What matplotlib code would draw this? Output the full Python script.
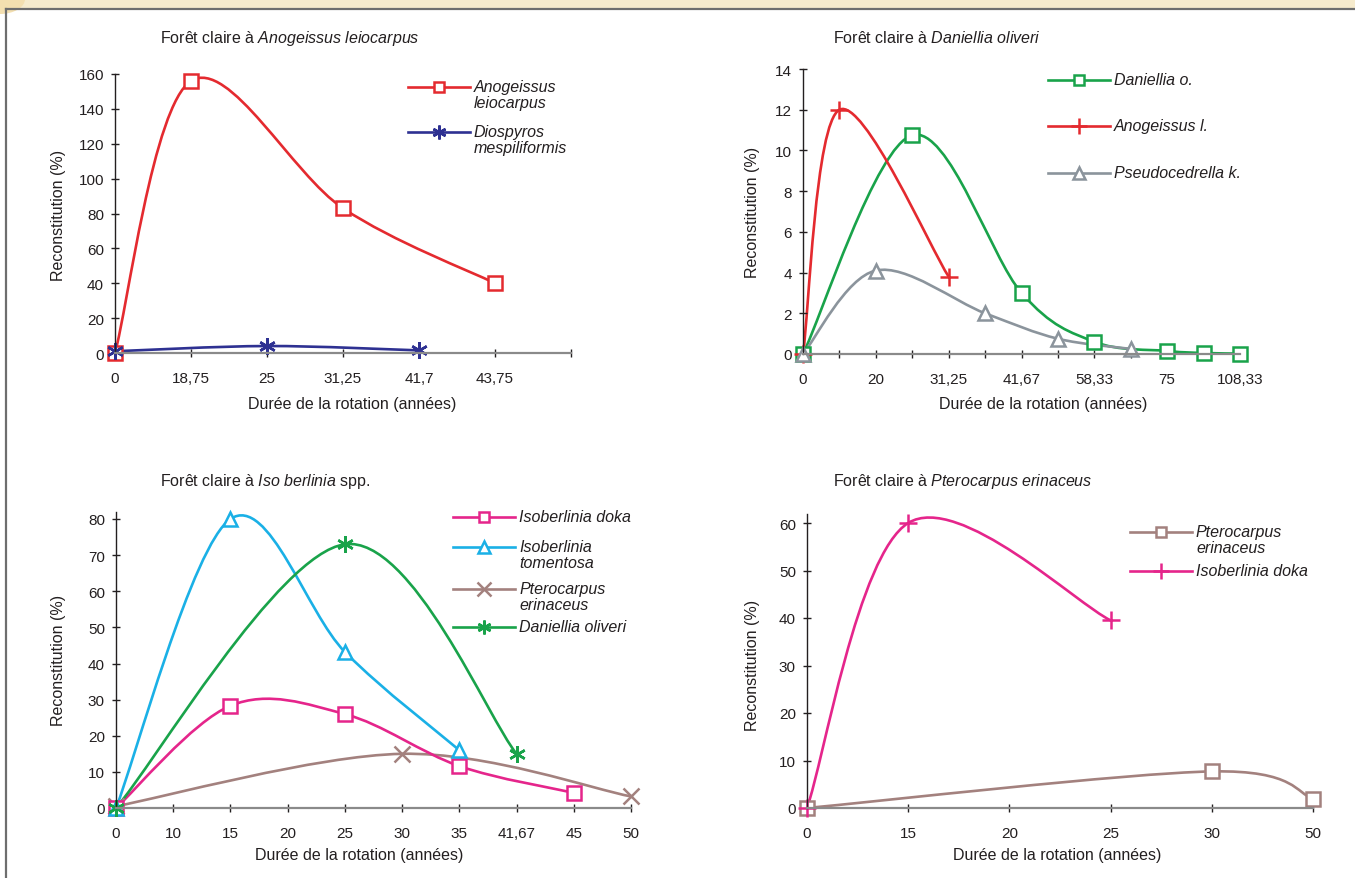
import matplotlib
matplotlib.use('Agg')
import matplotlib.pyplot as plt
from matplotlib.path import Path
from matplotlib.patches import PathPatch, Rectangle, Ellipse
from matplotlib.lines import Line2D

plt.rcParams['font.family'] = ['Liberation Sans', 'DejaVu Sans']
plt.rcParams['mathtext.fontset'] = 'custom'
plt.rcParams['mathtext.rm'] = 'Liberation Sans'
plt.rcParams['mathtext.it'] = 'Liberation Sans:italic'

W, H = 1355, 879
INK = '#231f20'
FS = 11.5

# ---- data (category positions on an evenly spaced axis, values in %) ----
tl_labels = ['0', '18,75', '25', '31,25', '41,7', '43,75', '']
tl_anog_x = [0, 1, 3, 5]
tl_anog_y = [0, 156, 83, 40]
tl_dios_x = [0, 2, 4]
tl_dios_y = [1, 4, 1.5]

tr_labels = ['0', '', '20', '', '31,25', '', '41,67', '', '58,33', '', '75', '', '108,33']
tr_dan_x = [0, 3, 6, 8, 10, 11, 12]
tr_dan_y = [0, 10.75, 3.0, 0.6, 0.15, 0.05, 0.02]
tr_anog_x = [0, 1, 4]
tr_anog_y = [0, 12, 3.8]
tr_pseu_x = [0, 2, 5, 7, 9]
tr_pseu_y = [0, 4.1, 2.0, 0.75, 0.25]

bl_labels = ['0', '10', '15', '20', '25', '30', '35', '41,67', '45', '50']
bl_doka_x = [0, 2, 4, 6, 8]
bl_doka_y = [0, 28.3, 26, 11.6, 4.2]
bl_tom_x = [0, 2, 4, 6]
bl_tom_y = [0, 80, 43.2, 16]
bl_pter_x = [0, 5, 9]
bl_pter_y = [0.5, 15, 3.2]
bl_dan_x = [0, 4, 7]
bl_dan_y = [0, 73, 15]

br_labels = ['0', '15', '20', '25', '30', '50']
br_pter_x = [0, 4, 5]
br_pter_y = [0, 7.7, 2]
br_doka_x = [0, 1, 3]
br_doka_y = [0, 60, 39.5]

RED = '#e42a2f'
NAVY = '#2e3192'
GREEN = '#19a34a'
GREY = '#8b949c'
MAGENTA = '#e5258b'
CYAN = '#1ab0e6'
BROWN = '#a3817e'
STAR = (6, 2, 0)
HOLLOW = ('s', '^')


def px(x, y):
    return x / W, 1 - y / H


def smooth_path(xs, ys):
    # Catmull-Rom style bezier, like the spreadsheet "smoothed line"
    pts = list(zip(xs, ys))
    n = len(pts)
    verts = [pts[0]]
    codes = [Path.MOVETO]
    for i in range(n - 1):
        p0 = pts[max(i - 1, 0)]
        p1 = pts[i]
        p2 = pts[i + 1]
        p3 = pts[min(i + 2, n - 1)]
        c1 = (p1[0] + (p2[0] - p0[0]) / 6, p1[1] + (p2[1] - p0[1]) / 6)
        c2 = (p2[0] - (p3[0] - p1[0]) / 6, p2[1] - (p3[1] - p1[1]) / 6)
        verts += [c1, c2, p2]
        codes += [Path.CURVE4] * 3
    return Path(verts, codes)


def series(ax, xs, ys, color, marker, ms):
    ax.add_patch(PathPatch(smooth_path(xs, ys), fill=False, edgecolor=color,
                           lw=1.9, capstyle='round', joinstyle='round', clip_on=False))
    ax.plot(xs, ys, ls='none', marker=marker, ms=ms, mec=color,
            mfc='white' if marker in HOLLOW else 'none', mew=1.8, clip_on=False)


def make_axes(left, right, top, bottom):
    x0, y0 = px(left, bottom)
    return fig.add_axes([x0, y0, (right - left) / W, (bottom - top) / H])


def style_axes(ax, labels, ymax, ystep, ytop):
    ax.patch.set_alpha(0)
    ax.set_xlim(0, len(labels) - 1)
    ax.set_ylim(0, ytop)
    ax.set_yticks(range(0, ymax + 1, ystep))
    ax.set_xticks(range(len(labels)))
    ax.set_xticklabels(labels)
    ax.spines['top'].set_visible(False)
    ax.spines['right'].set_visible(False)
    ax.spines['left'].set_color(INK)
    ax.spines['left'].set_linewidth(1.0)
    ax.spines['bottom'].set_color('#8a8a8a')
    ax.spines['bottom'].set_linewidth(1.6)
    ax.tick_params(direction='inout', length=6, width=1, color=INK,
                   labelsize=11, labelcolor=INK)
    ax.tick_params(axis='x', pad=10)
    ax.tick_params(axis='y', pad=5)


def legend_entry(x0, y, color, marker, ms, label):
    a, b = px(x0, y)
    c, _ = px(x0 + 62, y)
    m, _ = px(x0 + 31, y)
    fig.add_artist(Line2D([a, c], [b, b], color=color, lw=1.9))
    fig.add_artist(Line2D([m], [b], ls='none', marker=marker, ms=ms, mec=color,
                          mfc='white' if marker in HOLLOW else 'none', mew=1.8))
    tx, ty = px(x0 + 66, y - 8)
    fig.text(tx, ty, label, fontsize=FS, style='italic', color=INK,
             va='top', ha='left', linespacing=1.12)


def labels(title, tx, ty, xl, xlx, xly, ylx, yly):
    fig.text(*px(tx, ty), title, fontsize=FS, color=INK, ha='left', va='center')
    fig.text(*px(xlx, xly), xl, fontsize=FS, color=INK, ha='center', va='center')
    fig.text(*px(ylx, yly), 'Reconstitution (%)', fontsize=FS, color=INK,
             ha='center', va='center', rotation=90)


fig = plt.figure(figsize=(W / 100, H / 100), dpi=100)
fig.patch.set_facecolor('white')

# page decoration: beige strip on top and thin frame
fig.add_artist(Rectangle(px(0, 9), 1, 9 / H, transform=fig.transFigure,
                         facecolor='#f6ebcd', edgecolor='none'))
fig.add_artist(Ellipse(px(0, 0), 50 / W, 30 / H, transform=fig.transFigure,
                       facecolor='#f3dfb0', edgecolor='none'))
fig.add_artist(Line2D([6 / W, 1], [1 - 10 / H, 1 - 10 / H], color='#6e6e6e', lw=1.6))
fig.add_artist(Line2D([6 / W, 6 / W], [0, 1 - 10 / H], color='#6e6e6e', lw=1.6))

xl = 'Durée de la rotation (années)'

# top left
ax = make_axes(115, 571, 75, 354)
style_axes(ax, tl_labels, 160, 20, 160)
series(ax, tl_anog_x, tl_anog_y, RED, 's', 10)
series(ax, tl_dios_x, tl_dios_y, NAVY, STAR, 12)
labels(r'Forêt claire à $\it{Anogeissus\ leiocarpus}$', 160, 38, xl, 352, 404, 58, 215)
legend_entry(408, 88, RED, 's', 7, 'Anogeissus\nleiocarpus')
legend_entry(408, 133, NAVY, STAR, 10, 'Diospyros\nmespiliformis')

# top right
ax = make_axes(803, 1240, 70, 355)
style_axes(ax, tr_labels, 14, 2, 14)
series(ax, tr_dan_x, tr_dan_y, GREEN, 's', 10)
series(ax, tr_anog_x, tr_anog_y, RED, '+', 13)
series(ax, tr_pseu_x, tr_pseu_y, GREY, '^', 10)
labels(r'Forêt claire à $\it{Daniellia\ oliveri}$', 833, 38, xl, 1043, 404, 752, 212)
legend_entry(1048, 81, GREEN, 's', 7, 'Daniellia o.')
legend_entry(1048, 127, RED, '+', 11, 'Anogeissus l.')
legend_entry(1048, 174, GREY, '^', 8, 'Pseudocedrella k.')

# bottom left
ax = make_axes(116, 631, 809 - 82 * 289 / 80, 809)
style_axes(ax, bl_labels, 80, 10, 82)
series(ax, bl_pter_x, bl_pter_y, BROWN, 'x', 11)
series(ax, bl_doka_x, bl_doka_y, MAGENTA, 's', 10)
series(ax, bl_tom_x, bl_tom_y, CYAN, '^', 10)
series(ax, bl_dan_x, bl_dan_y, GREEN, STAR, 12)
labels(r'Forêt claire à $\it{Iso\ berlinia}$ spp.', 160, 482, xl, 359, 856, 58, 660)
legend_entry(453, 518, MAGENTA, 's', 7, 'Isoberlinia doka')
legend_entry(453, 548, CYAN, '^', 8, 'Isoberlinia\ntomentosa')
legend_entry(453, 590, BROWN, 'x', 10, 'Pterocarpus\nerinaceus')
legend_entry(453, 628, GREEN, STAR, 10, 'Daniellia oliveri')

# bottom right
ax = make_axes(807, 1313, 809 - 62 * 4.75, 809)
style_axes(ax, br_labels, 60, 10, 62)
series(ax, br_pter_x, br_pter_y, BROWN, 's', 10)
series(ax, br_doka_x, br_doka_y, MAGENTA, '+', 13)
labels(r'Forêt claire à $\it{Pterocarpus\ erinaceus}$', 833, 482, xl, 1057, 856, 752, 665)
legend_entry(1130, 533, BROWN, 's', 7, 'Pterocarpus\nerinaceus')
legend_entry(1130, 572, MAGENTA, '+', 11, 'Isoberlinia doka')

fig.savefig('out.png', dpi=100)
